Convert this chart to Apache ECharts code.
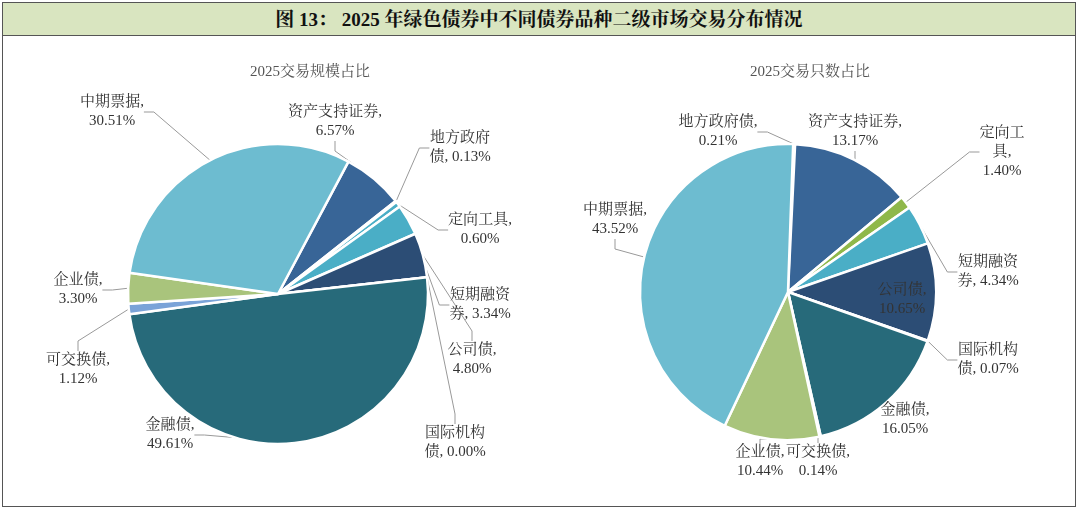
<!DOCTYPE html>
<html><head><meta charset="utf-8">
<script src="https://cdn.jsdelivr.net/npm/echarts@6/dist/echarts.min.js"></script>
<style>html,body{margin:0;padding:0;background:#fff}
#wrap{position:absolute;left:2px;top:2px;width:1074px;height:505px;border:1px solid #555;box-sizing:border-box}
#title{position:absolute;left:0;top:0;width:100%;height:33px;background:#d9e5c0;border-bottom:1px solid #555;box-sizing:border-box;text-align:center;font:bold 19px "Liberation Serif","Noto Serif CJK SC","Noto Sans CJK SC",serif;line-height:33px;color:#111}
#c{position:absolute;left:0;top:0;width:1080px;height:512px}</style></head>
<body><div id="c"></div><div id="wrap"><div id="title">图 13： 2025 年绿色债券中不同债券品种二级市场交易分布情况</div></div>
<script>
const leftNames=['资产支持证券','地方政府债','定向工具','短期融资券','公司债','国际机构债','金融债','可交换债','企业债','中期票据'];
const leftValues=[6.57,0.13,0.60,3.34,4.80,0.00,49.61,1.12,3.30,30.51];
const rightNames=['地方政府债','资产支持证券','定向工具','短期融资券','公司债','国际机构债','金融债','可交换债','企业债','中期票据'];
const rightValues=[0.21,13.17,1.40,4.34,10.65,0.07,16.05,0.14,10.44,43.52];
const leftColors=['#386597','#8fb84a','#4aaec6','#4aaec6','#2c4d75','#2c4d75','#276a7a','#7aa3d8','#a9c47c','#6dbcd0'];
const rightColors=['#6dbcd0','#386597','#8fb84a','#4aaec6','#2c4d75','#2c4d75','#276a7a','#a9c47c','#a9c47c','#6dbcd0'];
const leftText=['资产支持证券,\n6.57%','地方政府\n债, 0.13%','定向工具,\n0.60%','短期融资\n券, 3.34%','公司债,\n4.80%','国际机构\n债, 0.00%','金融债,\n49.61%','可交换债,\n1.12%','企业债,\n3.30%','中期票据,\n30.51%'];
const rightText=['地方政府债,\n0.21%','资产支持证券,\n13.17%','定向工\n具,\n1.40%','短期融资\n券, 4.34%','公司债,\n10.65%','国际机构\n债, 0.07%','金融债,\n16.05%','可交换债,\n0.14%','企业债,\n10.44%','中期票据,\n43.52%'];
const leftPos=[[335,122],[460,148],[480,230],[480,305],[472,360],[455,443],[170,435],[78,370],[78,290],[112,112]];
const rightPos=[[718,132],[855,132],[1002,152],[988,272],[902,300],[988,360],[905,420],[818,462],[760,462],[615,220]];
const font='"Liberation Serif","Noto Serif CJK SC","Noto Sans CJK SC",serif';
function mk(names,vals,cols,txt,pos,center,r,start){
 return {type:'pie',center:center,radius:r,startAngle:start,clockwise:true,minAngle:0,
  itemStyle:{borderColor:'#fff',borderWidth:2.5},
  data:names.map((n,i)=>({name:n,value:vals[i],itemStyle:{color:cols[i]}})),
  label:{show:true,formatter:p=>txt[p.dataIndex],fontFamily:font,fontSize:15,color:'#333',lineHeight:19},
  labelLine:{show:true,lineStyle:{color:'#999',width:1},length:10,length2:10},
  labelLayout:p=>({x:pos[p.dataIndex][0],y:pos[p.dataIndex][1],align:'center',verticalAlign:'middle'}),
  animation:false};
}
const ch=echarts.init(document.getElementById('c'));
ch.setOption({animation:false,
 title:[{text:'2025交易规模占比',left:305,top:60,textAlign:'center',textStyle:{fontFamily:font,fontSize:15,fontWeight:'normal',color:'#555'}},
        {text:'2025交易只数占比',left:805,top:60,textAlign:'center',textStyle:{fontFamily:font,fontSize:15,fontWeight:'normal',color:'#555'}}],
 series:[mk(leftNames,leftValues,leftColors,leftText,leftPos,[278,294],150,62),
         mk(rightNames,rightValues,rightColors,rightText,rightPos,[788,292],148,88)]});
ch.setOption({series:[{data:leftNames.map((n,i)=>({name:n,value:leftValues[i],itemStyle:{color:leftColors[i]},labelLine:{show:[4,5].includes(i)?true:true}}))},
 {data:rightNames.map((n,i)=>({name:n,value:rightValues[i],itemStyle:{color:rightColors[i]},labelLine:{show:![4,6].includes(i)}}))}]});
</script></body></html>
